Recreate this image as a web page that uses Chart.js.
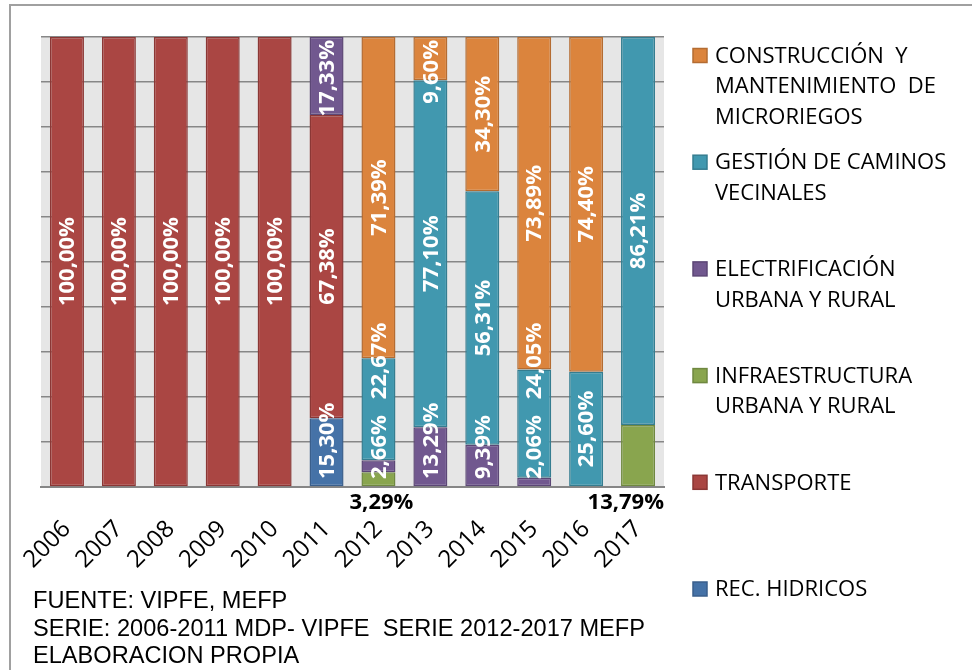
<!DOCTYPE html>
<html>
<head>
<meta charset="utf-8">
<script src="https://cdn.jsdelivr.net/npm/chart.js@4.4.1/dist/chart.umd.min.js"></script>
<style>
  html, body { margin: 0; padding: 0; background: #ffffff; }
  #wrap { width: 972px; height: 670px; }
</style>
</head>
<body>
<div id="wrap"><canvas id="c" width="972" height="670"></canvas></div>
<script>
// ---- DATA ----
const years = ['2006','2007','2008','2009','2010','2011','2012','2013','2014','2015','2016','2017'];
const recHidricos     = [null, null, null, null, null, 15.30, null, null, null, null, null, null];
const transporte      = [100, 100, 100, 100, 100, 67.38, null, null, null, null, null, null];
const infraestructura = [null, null, null, null, null, null, 3.29, null, null, null, null, 13.79];
const electrificacion = [null, null, null, null, null, 17.33, 2.66, 13.29, 9.39, 2.06, null, null];
const gestionCaminos  = [null, null, null, null, null, null, 22.67, 77.10, 56.31, 24.05, 25.60, 86.21];
const construccion    = [null, null, null, null, null, null, 71.39, 9.60, 34.30, 73.89, 74.40, null];

const seriesNames = {
  rec: ['REC. HIDRICOS'],
  tra: ['TRANSPORTE'],
  inf: ['INFRAESTRUCTURA', 'URBANA Y RURAL'],
  ele: ['ELECTRIFICACIÓN', 'URBANA Y RURAL'],
  ges: ['GESTIÓN DE CAMINOS', 'VECINALES'],
  con: ['CONSTRUCCIÓN  Y', 'MANTENIMIENTO  DE', 'MICRORIEGOS']
};
const sourceLines = [
  'FUENTE: VIPFE, MEFP',
  'SERIE: 2006-2011 MDP- VIPFE  SERIE 2012-2017 MEFP',
  'ELABORACION PROPIA'
];

// ---- STYLE ----
const FONT = '"Open Sans", "Noto Sans", sans-serif';
function fmt(v) { return v.toFixed(2).replace('.', ',') + '%'; }

const datasets = [
  { key: 'rec', data: recHidricos,     backgroundColor: '#4572A7', borderColor: '#3A5F8C' },
  { key: 'tra', data: transporte,      backgroundColor: '#AA4643', borderColor: '#8B3735' },
  { key: 'inf', data: infraestructura, backgroundColor: '#89A54E', borderColor: '#6F8840', labelBelow: true },
  { key: 'ele', data: electrificacion, backgroundColor: '#71588F', borderColor: '#5C4776' },
  { key: 'ges', data: gestionCaminos,  backgroundColor: '#4198AF', borderColor: '#357D90' },
  { key: 'con', data: construccion,    backgroundColor: '#DB843D', borderColor: '#B46C32' }
].map(d => Object.assign(d, {
  label: seriesNames[d.key].join('\n'),
  borderWidth: 1.5,
  borderSkipped: false,
  barPercentage: 0.655,
  categoryPercentage: 1.0
}));

const legendOrder = ['con', 'ges', 'ele', 'inf', 'tra', 'rec'];

const bgPlugin = {
  id: 'bg',
  beforeDraw(chart) {
    const ctx = chart.ctx, a = chart.chartArea;
    ctx.save();
    ctx.fillStyle = '#ffffff';
    ctx.fillRect(0, 0, chart.width, chart.height);
    ctx.fillStyle = '#E6E6E6';
    ctx.fillRect(a.left, a.top, a.right - a.left, a.bottom - a.top);
    ctx.strokeStyle = '#A0A0A0';
    ctx.lineWidth = 2;
    ctx.beginPath();
    ctx.moveTo(10, chart.height);
    ctx.lineTo(10, 5);
    ctx.lineTo(chart.width, 5);
    ctx.stroke();
    ctx.restore();
  }
};

const labelPlugin = {
  id: 'segLabels',
  afterDatasetsDraw(chart) {
    const ctx = chart.ctx, a = chart.chartArea;
    ctx.save();
    ctx.font = 'bold 22px ' + FONT;
    const n = chart.data.labels.length;
    for (let i = 0; i < n; i++) {
      const items = [];
      chart.data.datasets.forEach((ds, di) => {
        const v = ds.data[i];
        if (v == null) return;
        const bar = chart.getDatasetMeta(di).data[i];
        const text = fmt(v);
        const w = ctx.measureText(text).width;
        if (ds.labelBelow) {
          let cx = bar.x + 3;
          if (cx + w / 2 > a.right) cx = a.right - w / 2;
          ctx.fillStyle = '#000000';
          ctx.textAlign = 'center';
          ctx.textBaseline = 'middle';
          ctx.fillText(text, cx, a.bottom + 16);
          return;
        }
        const cy = (bar.y + bar.base) / 2;
        items.push({ text, x: bar.x, top: cy - w / 2, bot: cy + w / 2, w });
      });
      items.sort((p, q) => q.bot - p.bot);
      let limit = a.bottom - 8;
      items.forEach(it => {
        if (it.bot > limit) { it.bot = limit; it.top = limit - it.w; }
        limit = it.top - 16;
      });
      items.forEach(it => {
        if (it.top < a.top + 3) { it.top = a.top + 3; it.bot = it.top + it.w; }
      });
      items.forEach(it => {
        ctx.save();
        ctx.translate(it.x + 1, (it.top + it.bot) / 2);
        ctx.rotate(-Math.PI / 2);
        ctx.fillStyle = '#ffffff';
        ctx.textAlign = 'center';
        ctx.textBaseline = 'middle';
        ctx.fillText(it.text, 0, 0);
        ctx.restore();
      });
    }
    ctx.restore();
  }
};

const legendPlugin = {
  id: 'sideLegend',
  afterDraw(chart) {
    const ctx = chart.ctx;
    ctx.save();
    const x0 = 693, tx = 715, firstY = 55.5, pitch = 106.7, lineH = 30.5;
    ctx.font = '22px ' + FONT;
    ctx.textAlign = 'left';
    ctx.textBaseline = 'middle';
    legendOrder.forEach((key, k) => {
      const ds = chart.data.datasets.find(d => d.key === key);
      const cy = firstY + k * pitch;
      ctx.fillStyle = ds.backgroundColor;
      ctx.fillRect(x0, cy - 7, 14, 14);
      ctx.strokeStyle = ds.borderColor;
      ctx.lineWidth = 1.5;
      ctx.strokeRect(x0, cy - 7, 14, 14);
      ctx.fillStyle = '#000000';
      ds.label.split('\n').forEach((ln, j) => {
        ctx.fillText(ln, tx, cy + j * lineH + 1);
      });
    });
    ctx.font = '23px "Liberation Sans", Arial, sans-serif';
    ctx.textBaseline = 'alphabetic';
    const targetW = 612;
    const sx = targetW / ctx.measureText(sourceLines[1]).width;
    const baselines = [608, 635.5, 663];
    sourceLines.forEach((ln, j) => {
      ctx.save();
      ctx.translate(33, baselines[j]);
      ctx.scale(sx, 1);
      ctx.fillText(ln, 0, 0);
      ctx.restore();
    });
    ctx.restore();
  }
};

new Chart(document.getElementById('c'), {
  type: 'bar',
  data: { labels: years, datasets },
  options: {
    responsive: false,
    animation: false,
    devicePixelRatio: 1,
    layout: { padding: { left: 41, top: 37, right: 308, bottom: 0 } },
    plugins: { legend: { display: false }, tooltip: { enabled: false } },
    scales: {
      x: {
        stacked: true,
        grid: { display: false, drawTicks: false },
        border: { display: true, color: '#868686', width: 2 },
        ticks: {
          autoSkip: false, maxRotation: 45, minRotation: 45,
          color: '#000000', font: { family: FONT, size: 24 }, padding: 28
        },
        afterFit(scale) {
          scale.height = 670 - 487;
          scale.paddingLeft = 0;
          scale.paddingRight = 0;
        }
      },
      y: {
        stacked: true, min: 0, max: 100,
        ticks: { display: false, stepSize: 10 },
        grid: { color: '#878787', lineWidth: 1.6, drawTicks: false },
        border: { display: false },
        afterFit(scale) { scale.width = 0; }
      }
    }
  },
  plugins: [bgPlugin, labelPlugin, legendPlugin]
});
</script>
</body>
</html>
